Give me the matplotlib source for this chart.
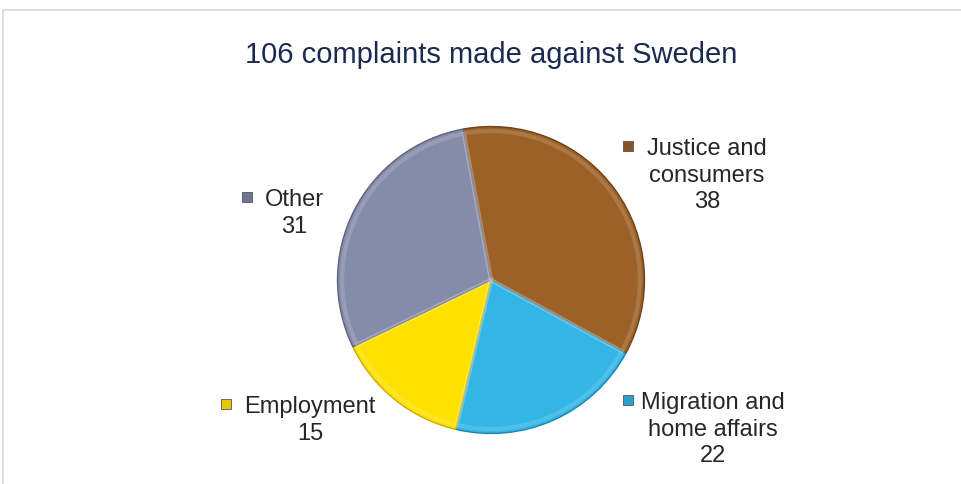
import matplotlib
matplotlib.use("Agg")
import matplotlib.pyplot as plt
from matplotlib.lines import Line2D
from matplotlib.patches import Rectangle

plt.rcParams['font.family'] = ['Liberation Sans', 'DejaVu Sans']

title = "106 complaints made against Sweden"
categories = ["Justice and\nconsumers", "Migration and\nhome affairs", "Employment", "Other"]
values = [38, 22, 15, 31]
colors = ["#9c6127", "#33b5e6", "#ffe100", "#858ca9"]
edge_colors = ["#6e4219", "#1d86b0", "#c9ad00", "#5d6380"]
marker_colors = ["#8a5526", "#2a9fd0", "#e8c800", "#6f7694"]

# label anchor (figure pixels, centre of first line) and marker x
label_pos = [(707, 147), (713, 401), (310, 405), (294, 198)]
marker_x = [628, 628, 226, 247]

W, H = 962, 485
fig = plt.figure(figsize=(W / 100, H / 100), dpi=100)

# outer frame (only top and left visible)
fig.add_artist(Rectangle((3 / W, -0.1), 1.2, (H - 11) / H + 0.1, transform=fig.transFigure,
                         fill=False, edgecolor="#d9d9d9", linewidth=1.2))

fig.text(491 / W, 1 - 55 / H, title, ha="center", va="center", fontsize=21, color="#1b2a4e")

cx, cy, r = 491, 281, 155
ax = fig.add_axes([(cx - r) / W, (H - cy - r) / H, 2 * r / W, 2 * r / H])
wedges, _ = ax.pie(values, colors=colors, startangle=100.5, counterclock=False,
                   wedgeprops=dict(linewidth=1.0))
for w, ec in zip(wedges, edge_colors):
    w.set_edgecolor(ec)
# soft bevel highlight
ax.pie(values, startangle=100.5, counterclock=False, radius=0.97,
       wedgeprops=dict(linewidth=3, edgecolor=(1, 1, 1, 0.15), fill=False))
ax.set_xlim(-1.01, 1.01)
ax.set_ylim(-1.01, 1.01)
ax.set_aspect("equal")
ax.axis("off")

for cat, val, (lx, ly), mx, mc in zip(categories, values, label_pos, marker_x, marker_colors):
    fig.text(lx / W, 1 - (ly - 9) / H, f"{cat}\n{val}", ha="center", va="top", fontsize=17,
             color="#262626", linespacing=1.27)
    fig.add_artist(Line2D([mx / W], [1 - ly / H], marker="s", markersize=7.5,
                          markerfacecolor=mc, markeredgecolor="#555555", markeredgewidth=0.6,
                          linestyle="none", transform=fig.transFigure))

fig.savefig("out.png", dpi=100)
